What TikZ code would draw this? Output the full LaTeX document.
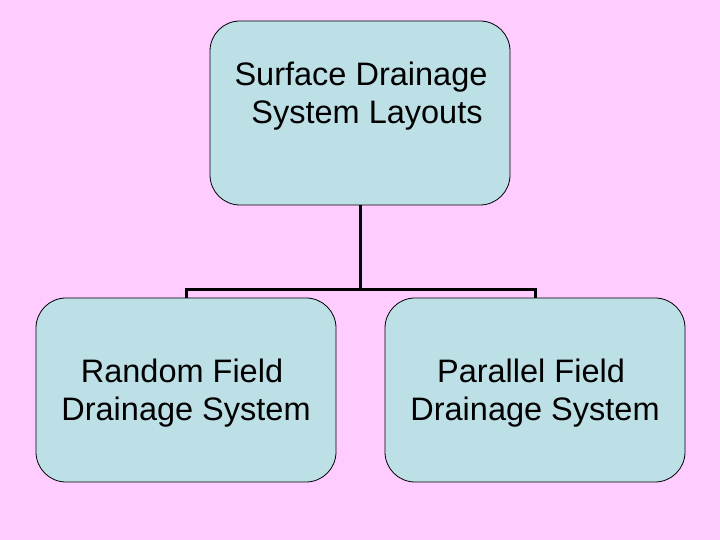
\documentclass[tikz,border=0pt]{standalone}
\usepackage{fontspec}
\setmainfont{Liberation Sans}
\begin{document}
\begin{tikzpicture}[x=1pt,y=1pt,
  box/.style={draw=black,line width=0.8pt,fill=boxc,rounded corners=30pt,minimum width=300pt,minimum height=184pt},
  lbl/.style={align=center,font=\fontsize{32.5}{38}\selectfont},
  conn/.style={line width=3pt,draw=black}]
\definecolor{bg}{HTML}{FFCCFF}
\definecolor{boxc}{HTML}{BDE0E6}
\fill[bg] (0,0) rectangle (720,540);
\useasboundingbox (0,0) rectangle (720,540);
\node[box] (top) at (360,427) {};
\node[box] (left) at (186,150) {};
\node[box] (right) at (535,150) {};
\node[lbl] (t1) at (361,444) {Surface Drainage\\ \hspace*{12pt}System Layouts};
\node[lbl] (l1) at (186,147) {Random Field\hspace*{8pt}\\Drainage System};
\node[lbl] (r1) at (535,147) {Parallel Field\hspace*{8pt}\\Drainage System};
\coordinate (j) at (360,250);
\draw[conn] (top.south) -- (j);
\draw[conn] (left.north) -- (left.north |- j) -- (right.north |- j) -- (right.north);
\end{tikzpicture}
\end{document}
